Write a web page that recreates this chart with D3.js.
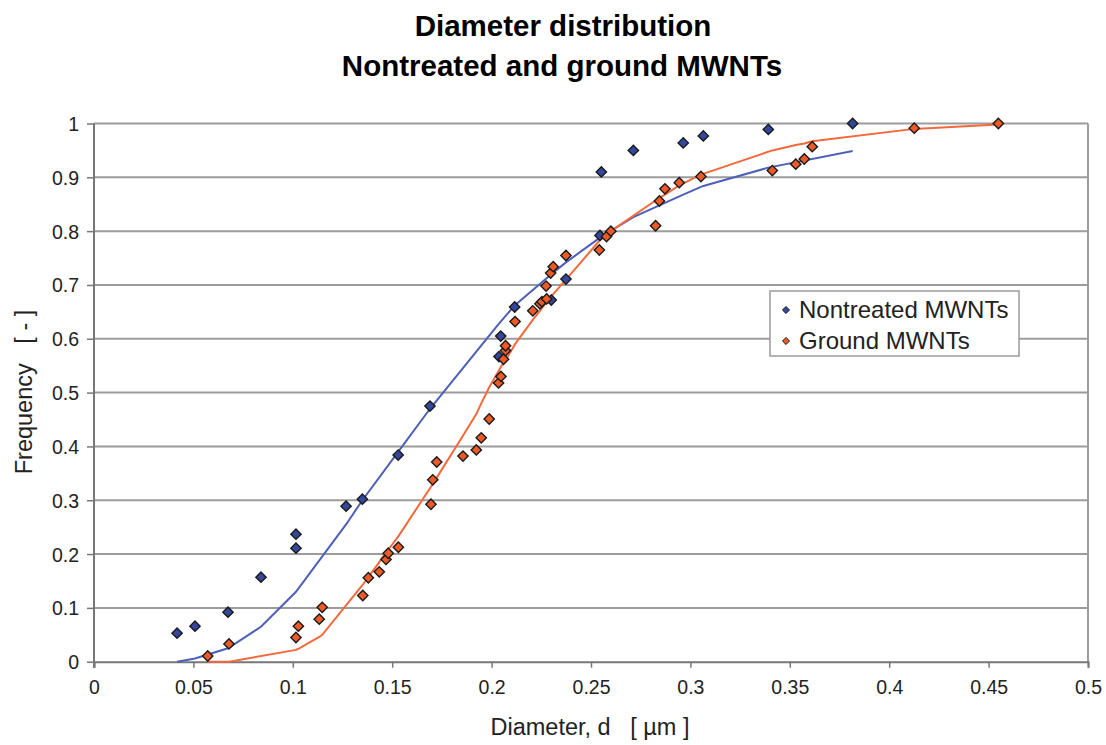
<!DOCTYPE html>
<html>
<head>
<meta charset="utf-8">
<script src="https://cdn.jsdelivr.net/npm/d3@7"></script>
<style>
	body { margin: 0; background: #fff; }
	text { font-family: Arial, 'Liberation Sans', sans-serif; }
</style>
</head>
<body>
<script>
// Nontreated MWNTs: measured points and fitted curve (same x)
const blueX = [0.0418, 0.0508, 0.0674, 0.084, 0.1016, 0.1016, 0.1268, 0.135, 0.153, 0.169, 0.2037, 0.2046, 0.2116, 0.23, 0.2374, 0.2545, 0.2552, 0.2713, 0.2964, 0.3065, 0.3392, 0.3816]
const blueY = [0.053, 0.066, 0.092, 0.157, 0.211, 0.237, 0.289, 0.302, 0.384, 0.475, 0.567, 0.605, 0.659, 0.672, 0.711, 0.792, 0.91, 0.95, 0.964, 0.977, 0.989, 1.0]
const blueFit = [0, 0.006, 0.025, 0.065, 0.13, 0.13, 0.255, 0.3, 0.39, 0.47, 0.628, 0.632, 0.662, 0.72, 0.742, 0.788, 0.79, 0.826, 0.868, 0.884, 0.918, 0.949]

// Ground MWNTs
const orangeX = [0.0572, 0.0679, 0.1016, 0.1028, 0.1133, 0.1148, 0.1352, 0.138, 0.1435, 0.1469, 0.148, 0.1531, 0.1695, 0.1704, 0.1724, 0.1856, 0.1923, 0.1948, 0.1988, 0.2035, 0.2047, 0.206, 0.207, 0.207, 0.2118, 0.2207, 0.2243, 0.2253, 0.2274, 0.2277, 0.2297, 0.231, 0.2374, 0.2542, 0.2578, 0.26, 0.2825, 0.2844, 0.2872, 0.2944, 0.3053, 0.3412, 0.353, 0.3573, 0.3613, 0.4126, 0.4549]
const orangeY = [0.0106, 0.033, 0.045, 0.066, 0.079, 0.101, 0.123, 0.156, 0.167, 0.19, 0.2015, 0.2126, 0.2925, 0.338, 0.371, 0.382, 0.3935, 0.416, 0.451, 0.518, 0.53, 0.562, 0.578, 0.587, 0.632, 0.652, 0.665, 0.669, 0.698, 0.674, 0.722, 0.734, 0.7547, 0.765, 0.79, 0.8, 0.81, 0.856, 0.8786, 0.89, 0.9015, 0.9126, 0.9245, 0.934, 0.957, 0.9914, 1.0]
const orangeFit = [0, 0, 0.022, 0.024, 0.046, 0.05, 0.143, 0.157, 0.185, 0.203, 0.208, 0.233, 0.325, 0.33, 0.342, 0.42, 0.46, 0.48, 0.51, 0.54, 0.548, 0.555, 0.56, 0.56, 0.59, 0.635, 0.652, 0.657, 0.667, 0.668, 0.677, 0.683, 0.71, 0.782, 0.793, 0.8, 0.857, 0.862, 0.868, 0.885, 0.905, 0.95, 0.96, 0.963, 0.967, 0.99, 0.998]

const xTicks = [0, 0.05, 0.1, 0.15, 0.2, 0.25, 0.3, 0.35, 0.4, 0.45, 0.5]
const yTicks = [0, 0.1, 0.2, 0.3, 0.4, 0.5, 0.6, 0.7, 0.8, 0.9, 1]
const seriesNames = ['Nontreated MWNTs', 'Ground MWNTs']

const svgw = 1106
const svgh = 745
const padL = 94
const padR = 1088
const padT = 123.5
const padB = 661.7

const blueFill = '#34479c'
const orangeFill = '#ee5a27'
const blueLine = '#4d5fb8'
const orangeLine = '#f26a3c'

const svg = d3.select('body').append('svg').attr('width', svgw).attr('height', svgh)

const xScale = d3.scaleLinear().domain([0, 0.5]).range([padL, padR])
const yScale = d3.scaleLinear().domain([0, 1]).range([padB, padT])

// gridlines
svg.append('g')
	.selectAll('line')
	.data(yTicks.filter(d => d > 0))
	.enter()
	.append('line')
	.attr('x1', padL)
	.attr('x2', padR)
	.attr('y1', d => yScale(d))
	.attr('y2', d => yScale(d))
	.attr('stroke', '#9c9c9c')
	.attr('stroke-width', 2)

svg.append('line')
	.attr('x1', padR).attr('x2', padR)
	.attr('y1', padT).attr('y2', padB)
	.attr('stroke', '#9c9c9c')
	.attr('stroke-width', 2)

const xAxis = d3.axisBottom(xScale).tickValues(xTicks).tickSize(6).tickPadding(12).tickFormat(d => String(d))
const yAxis = d3.axisLeft(yScale).tickValues(yTicks).tickSize(7).tickPadding(8).tickFormat(d => String(d))

const gx = svg.append('g')
	.attr('transform', `translate(0, ${padB})`)
	.call(xAxis)
const gy = svg.append('g')
	.attr('transform', `translate(${padL}, 0)`)
	.call(yAxis)

for (const g of [gx, gy]) {
	g.select('.domain').attr('stroke', '#777').attr('stroke-width', 2)
	g.selectAll('.tick line').attr('stroke', '#777').attr('stroke-width', 1.5)
	g.selectAll('.tick text')
		.attr('fill', '#222')
		.style('font-size', '19.5px')
		.style('font-family', 'Arial, "Liberation Sans", sans-serif')
}
gy.select('.domain').attr('d', `M0,${padB + 6}V${padT}`)
gy.selectAll('.tick text').attr('dy', '0.36em')

// fitted curves
const line = d3.line()
	.x(d => xScale(d[0]))
	.y(d => yScale(d[1]))

svg.append('path')
	.datum(blueX.map((x, i) => [x, blueFit[i]]))
	.attr('d', line)
	.attr('fill', 'none')
	.attr('stroke', blueLine)
	.attr('stroke-width', 2)

svg.append('path')
	.datum(orangeX.map((x, i) => [x, orangeFit[i]]))
	.attr('d', line)
	.attr('fill', 'none')
	.attr('stroke', orangeLine)
	.attr('stroke-width', 2)

// points
const diamond = d3.symbol().type(d3.symbolDiamond2 || d3.symbolDiamond).size(68)

const drawPoints = (xs, ys, fill) => {
	svg.append('g')
		.selectAll('path')
		.data(xs.map((x, i) => [x, ys[i]]))
		.enter()
		.append('path')
		.attr('d', diamond)
		.attr('transform', d => `translate(${xScale(d[0])},${yScale(d[1])})`)
		.attr('fill', fill)
		.attr('stroke', '#1a1a1a')
		.attr('stroke-width', 1.4)
}
drawPoints(blueX, blueY, blueFill)
drawPoints(orangeX, orangeY, orangeFill)

// titles
const title = svg.append('text')
	.attr('text-anchor', 'middle')
	.style('font-size', '29.5px')
	.style('font-weight', 'bold')
	.attr('fill', '#000')
title.append('tspan').attr('x', 563).attr('y', 36).text('Diameter distribution')
title.append('tspan').attr('x', 562).attr('y', 76).text('Nontreated and ground MWNTs')

svg.append('text')
	.attr('x', 590)
	.attr('y', 735)
	.attr('text-anchor', 'middle')
	.style('font-size', '23.5px')
	.style('white-space', 'pre')
	.attr('fill', '#222')
	.text('Diameter, d   [ \u00b5m ]')

svg.append('text')
	.attr('transform', 'translate(32, 392) rotate(-90)')
	.attr('text-anchor', 'middle')
	.style('font-size', '23.5px')
	.style('white-space', 'pre')
	.attr('fill', '#222')
	.text('Frequency   [ - ]')

// legend
const legend = svg.append('g').attr('transform', 'translate(770, 291)')
legend.append('rect')
	.attr('width', 249)
	.attr('height', 65)
	.attr('fill', '#fff')
	.attr('stroke', '#9a9a9a')
	.attr('stroke-width', 1.5)

const legendSym = d3.symbol().type(d3.symbolDiamond2 || d3.symbolDiamond).size(32)
seriesNames.forEach((name, i) => {
	const row = legend.append('g').attr('transform', `translate(0, ${18 + i * 31})`)
	row.append('path')
		.attr('d', legendSym)
		.attr('transform', 'translate(16, 1)')
		.attr('fill', i === 0 ? blueFill : orangeFill)
		.attr('stroke', '#1a1a1a')
		.attr('stroke-width', 1)
	row.append('text')
		.attr('x', 29)
		.attr('y', 9)
		.style('font-size', '24px')
		.attr('fill', '#222')
		.text(name)
})
</script>
</body>
</html>
